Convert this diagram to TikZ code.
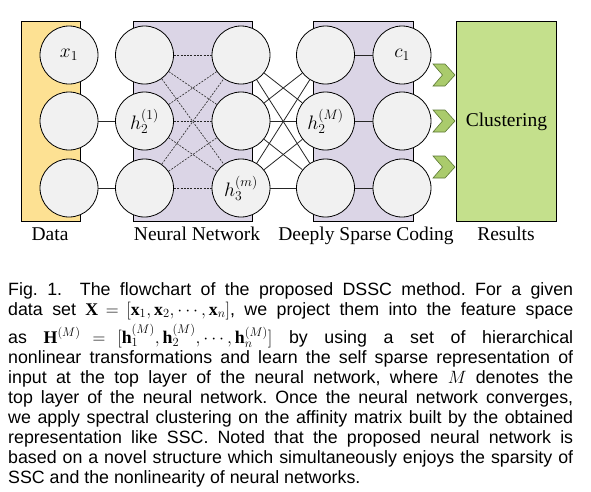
\RequirePackage{fix-cm}
\documentclass[tikz,border=0pt]{standalone}
\usepackage{fontspec}
\setmainfont{Liberation Serif}
\newfontfamily\capfont{Liberation Sans}
\usepackage{tikz}
\usetikzlibrary{
    arrows,
    shapes
}
\definecolor{datayellow}{HTML}{FDE193}
\definecolor{netpurple}{HTML}{DBD5E6}
\definecolor{unitgray}{HTML}{F1F1F1}
\definecolor{resgreen}{HTML}{C4E08C}
\definecolor{chevgreen}{HTML}{AACB6C}
\definecolor{chevedge}{HTML}{5C7835}
\newcommand\capsetup{\capfont\fontsize{17.8}{20}\selectfont\frenchspacing
    \thickmuskip=5mu plus 1.5mu\relax
    \medmuskip=4mu plus 1mu\relax}
\tikzset{
    unit/.style={draw, circle, fill=unitgray, line width=0.8pt, minimum size=58pt, inner sep=0pt, font=\fontsize{19.5}{23}\selectfont},
    link/.style={line width=0.8pt, black!85},
    dotlink/.style={line width=0.6pt, black!85, dash pattern=on 2pt off 1.3pt},
    chevron/.style={fill=chevgreen, draw=chevedge, line width=0.6pt, line join=miter},
    stagename/.style={anchor=base, inner sep=0pt, font=\fontsize{19.5}{23}\selectfont}
}

\begin{document}
\begin{tikzpicture}[x=1pt, y=-1pt]
            \useasboundingbox (0,0) rectangle (591,491);

            % backgrounds
            \draw[fill=datayellow, line width=0.8pt] (21,21) rectangle (80,221);
            \draw[fill=netpurple, line width=0.8pt] (133,21) rectangle (252,221);
            \draw[fill=netpurple, line width=0.8pt] (313,21) rectangle (413,221);
            \node[draw, fill=resgreen, line width=0.8pt, anchor=north west, minimum width=100pt, minimum height=200pt, font=\fontsize{19.5}{23}\selectfont] (clust) at (456,21) {Clustering};

            \node[unit] (data1) at (69, 55)  {$x_1$};
            \node[unit] (data2) at (69,121)  {};
            \node[unit] (data3) at (69,188)  {};

            \node[unit] (hiddenA1) at (144.5, 55)  {};
            \node[unit] (hiddenA2) at (144.5,121)  {$h_2^{(1)}$};
            \node[unit] (hiddenA3) at (144.5,188)  {};

            \node[unit] (hiddenB1) at (241, 55)  {};
            \node[unit] (hiddenB2) at (241,121)  {};
            \node[unit] (hiddenB3) at (241,188)  {$h_3^{(m)}$};

            \node[unit] (sparse1) at (325.5, 55)  {};
            \node[unit] (sparse2) at (325.5,121)  {$h_2^{(M)}$};
            \node[unit] (sparse3) at (325.5,188)  {};

            \node[unit] (code1) at (402, 55)  {$c_1$};
            \node[unit] (code2) at (402,121)  {};
            \node[unit] (code3) at (402,188)  {};

            \draw[link] (data2)--(hiddenA2);
            \draw[link] (data3)--(hiddenA3);

            \draw[dotlink] (hiddenA1)--(hiddenB1);
            \draw[dotlink] (hiddenA1)--(hiddenB2);
            \draw[dotlink] (hiddenA1)--(hiddenB3);
            \draw[dotlink] (hiddenA2)--(hiddenB1);
            \draw[dotlink] (hiddenA2)--(hiddenB2);
            \draw[dotlink] (hiddenA2)--(hiddenB3);
            \draw[dotlink] (hiddenA3)--(hiddenB1);
            \draw[dotlink] (hiddenA3)--(hiddenB2);
            \draw[dotlink] (hiddenA3)--(hiddenB3);

            \draw[link] (hiddenB1)--(sparse2);
            \draw[link] (hiddenB1)--(sparse3);
            \draw[link] (hiddenB2)--(sparse1);
            \draw[link] (hiddenB2)--(sparse2);
            \draw[link] (hiddenB2)--(sparse3);
            \draw[link] (hiddenB3)--(sparse1);
            \draw[link] (hiddenB3)--(sparse2);
            \draw[link] (hiddenB3)--(sparse3);

            \draw[link] (sparse1)--(code1);
            \draw[link] (sparse2)--(code2);
            \draw[link] (sparse3)--(code3);

            % chevrons towards the clustering box
            \draw[chevron] (433, 64) -- (445, 64) -- (455, 75) -- (445, 86) -- (433, 86) -- (442.5, 75) -- cycle;
            \draw[chevron] (433,110) -- (445,110) -- (455,121) -- (445,132) -- (433,132) -- (442.5,121) -- cycle;
            \draw[chevron] (433,156) -- (445,156) -- (455,167) -- (445,178) -- (433,178) -- (442.5,167) -- cycle;

            \node[stagename] (lblData)    at ( 50,240) {Data};
            \node[stagename] (lblNet)     at (197,240) {Neural Network};
            \node[stagename] (lblCoding)  at (366,240) {Deeply Sparse Coding};
            \node[stagename] (lblResults) at (506,240) {Results};

            \node[anchor=north west, inner sep=0pt, align=left, font=\capsetup] (caption) at (8,282) {%
                \makebox[565pt][s]{Fig.~1.\quad The flowchart of the proposed DSSC method. For a given}\\
                \makebox[565pt][s]{data set $\mathbf{X}=[\mathbf{x}_1,\mathbf{x}_2,\cdots,\mathbf{x}_n]$, we project them into the feature space}\\[4pt]
                \makebox[565pt][s]{as $\mathbf{H}^{(M)} = [\mathbf{h}_1^{(M)},\mathbf{h}_2^{(M)},\cdots,\mathbf{h}_n^{(M)}]$ by using a set of hierarchical}\\
                \makebox[565pt][s]{nonlinear transformations and learn the self sparse representation of}\\
                \makebox[565pt][s]{input at the top layer of the neural network, where $M$ denotes the}\\
                \makebox[565pt][s]{top layer of the neural network. Once the neural network converges,}\\
                \makebox[565pt][s]{we apply spectral clustering on the affinity matrix built by the obtained}\\
                \makebox[565pt][s]{representation like SSC. Noted that the proposed neural network is}\\
                \makebox[565pt][s]{based on a novel structure which simultaneously enjoys the sparsity of}\\
                SSC and the nonlinearity of neural networks.};
\end{tikzpicture}
\end{document}
